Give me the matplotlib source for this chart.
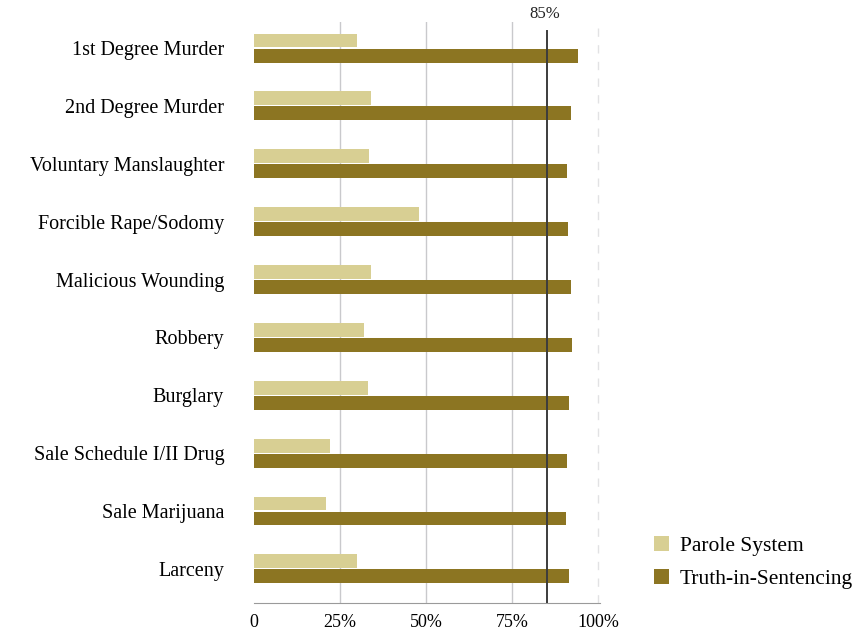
import matplotlib.pyplot as plt
import numpy as np

categories = ["1st Degree Murder", "2nd Degree Murder", "Voluntary Manslaughter",
              "Forcible Rape/Sodomy", "Malicious Wounding", "Robbery", "Burglary",
              "Sale Schedule I/II Drug", "Sale Marijuana", "Larceny"]
parole = [30, 34, 33.5, 48, 34, 32, 33, 22, 21, 30]
truth = [94, 92, 91, 91.3, 92, 92.4, 91.6, 91, 90.7, 91.6]
ticks = [0, 25, 50, 75, 100]
tick_labels = ["0", "25%", "50%", "75%", "100%"]
target = 85

plt.rcParams['font.family'] = ['Liberation Serif', 'DejaVu Serif']

fig = plt.figure(figsize=(8.56, 6.31), dpi=100)
ax = fig.add_axes([254/856, 1 - 603/631, 346/856, (603 - 22)/631])

y = np.arange(len(categories))
h = 0.24
ax.barh(y - h/2 - 0.01, parole, height=h, color="#d8cf93", label="Parole System")
ax.barh(y + h/2 + 0.01, truth, height=h, color="#8c7522", label="Truth-in-Sentencing")

# gridlines
for t in [25, 50, 75]:
    ax.axvline(t, color="#c9c9cc", lw=1, zorder=0)
ax.axvline(100, color="#e2e2e4", lw=1, ls=(0, (6, 6)), zorder=0)
ax.axvline(target, color="#3c3c3c", lw=1.4, ymax=0.985, zorder=3)
ax.text(target - 0.5, -0.45, "85%", ha="center", va="bottom", fontsize=12, color="#222222")

ax.set_xlim(0, 100.5)
ax.set_ylim(9.59, -0.45)
ax.set_yticks(y)
ax.set_yticklabels(categories, fontsize=14.5)
ax.set_xticks(ticks)
ax.set_xticklabels(tick_labels, fontsize=13)
ax.tick_params(axis="y", length=0, pad=21.5)
ax.tick_params(axis="x", length=0, pad=8)

for s in ["top", "right", "left"]:
    ax.spines[s].set_visible(False)
ax.spines["bottom"].set_color("#9a9a9a")

ax.legend(loc="lower left", bbox_to_anchor=(1.1, -0.01), frameon=False, fontsize=15.5,
          handlelength=0.7, handleheight=0.7, handletextpad=0.5, labelspacing=0.62)

fig.savefig("out.png", dpi=100, facecolor="white")
